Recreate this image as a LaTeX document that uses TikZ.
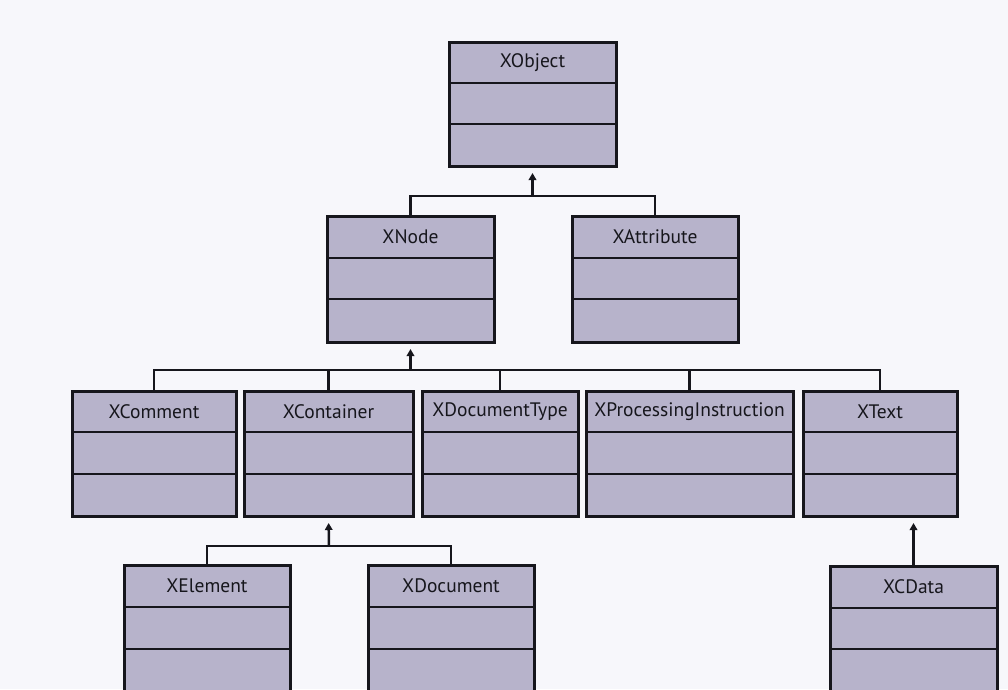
\documentclass[tikz,border=0pt]{standalone}
\usepackage{fontspec}
\setmainfont{PT Sans}
\usetikzlibrary{arrows.meta}

\definecolor{paper}{HTML}{F7F7FB}
\definecolor{classfill}{HTML}{B7B3CB}
\definecolor{ink}{HTML}{16161C}

\tikzset{
  classbox/.style={draw=ink, fill=classfill, line width=3pt, inner sep=0pt, outer sep=0pt, rectangle},
  classline/.style={draw=ink, line width=2.8pt},
  classname/.style={font=\fontsize{19.5}{23}\selectfont, text=ink, inner sep=0pt},
  conn/.style={draw=ink, line width=2.5pt},
  inherit/.style={conn, -{Triangle[length=7pt,width=7.5pt]}, shorten >=7pt},
}

% \umlclass{name}{left}{right}{top}{bottom}{divider 1}{divider 2}{title}
\newcommand{\umlclass}[8]{%
  \node[classbox, minimum width={(#3-#2)*1pt}, minimum height={(#5-#4)*1pt}]
    (#1) at ({(#2+#3)/2},{(#4+#5)/2}) {};
  \draw[classline] (#2,#6) -- (#3,#6);
  \draw[classline] (#2,#7) -- (#3,#7);
  \node[classname] (#1-title) at ({(#2+#3)/2},{(#4+#6)/2}) {#8};
}

\begin{document}
\begin{tikzpicture}[x=1pt, y=-1pt]
  \useasboundingbox (0,0) rectangle (1008,689);
  \clip (0,0) rectangle (1008,689);
  \fill[paper] (0,0) rectangle (1008,689);

  % root
  \umlclass{xobject}{449}{616}{42}{166}{83}{124}{XObject}

  % second level
  \umlclass{xnode}{327}{494}{216}{342}{258}{299}{XNode}
  \umlclass{xattribute}{572}{738}{216}{342}{258}{299}{XAttribute}

  % third level
  \umlclass{xcomment}{72}{236}{391}{516}{432}{474}{XComment}
  \umlclass{xcontainer}{244}{413}{391}{516}{432}{474}{XContainer}
  \umlclass{xdoctype}{422}{578}{391}{516}{432}{474}{XDocumentType}
  \umlclass{xpi}{586}{793}{391}{516}{432}{474}{XProcessingInstruction}
  \umlclass{xtext}{803}{957}{391}{516}{432}{474}{XText}

  % fourth level (runs off the bottom of the page)
  \umlclass{xelement}{124}{290}{565}{720}{607}{649}{XElement}
  \umlclass{xdocument}{368}{534}{565}{720}{607}{649}{XDocument}
  \umlclass{xcdata}{830}{997}{566}{720}{608}{649}{XCData}

  % XNode, XAttribute -> XObject
  \coordinate (j1) at (532.5,196);
  \draw[conn] (xnode.north) -- (xnode.north |- j1) -- (xattribute.north |- j1) -- (xattribute.north);
  \draw[inherit] (j1) -- (xobject.south);

  % third level -> XNode
  \coordinate (j2) at (410.5,370);
  \draw[conn] (xcomment.north) -- (xcomment.north |- j2) -- (xtext.north |- j2) -- (xtext.north);
  \draw[conn] (xcontainer.north) -- (xcontainer.north |- j2);
  \draw[conn] (xdoctype.north) -- (xdoctype.north |- j2);
  \draw[conn] (xpi.north) -- (xpi.north |- j2);
  \draw[inherit] (j2) -- (xnode.south);

  % XElement, XDocument -> XContainer
  \coordinate (j3) at (329,546);
  \draw[conn] (xelement.north) -- (xelement.north |- j3) -- (xdocument.north |- j3) -- (xdocument.north);
  \draw[inherit] (j3) -- (xcontainer.south);

  % XCData -> XText
  \draw[inherit] (xcdata.north) -- (xcdata.north |- xtext.south);
\end{tikzpicture}
\end{document}
